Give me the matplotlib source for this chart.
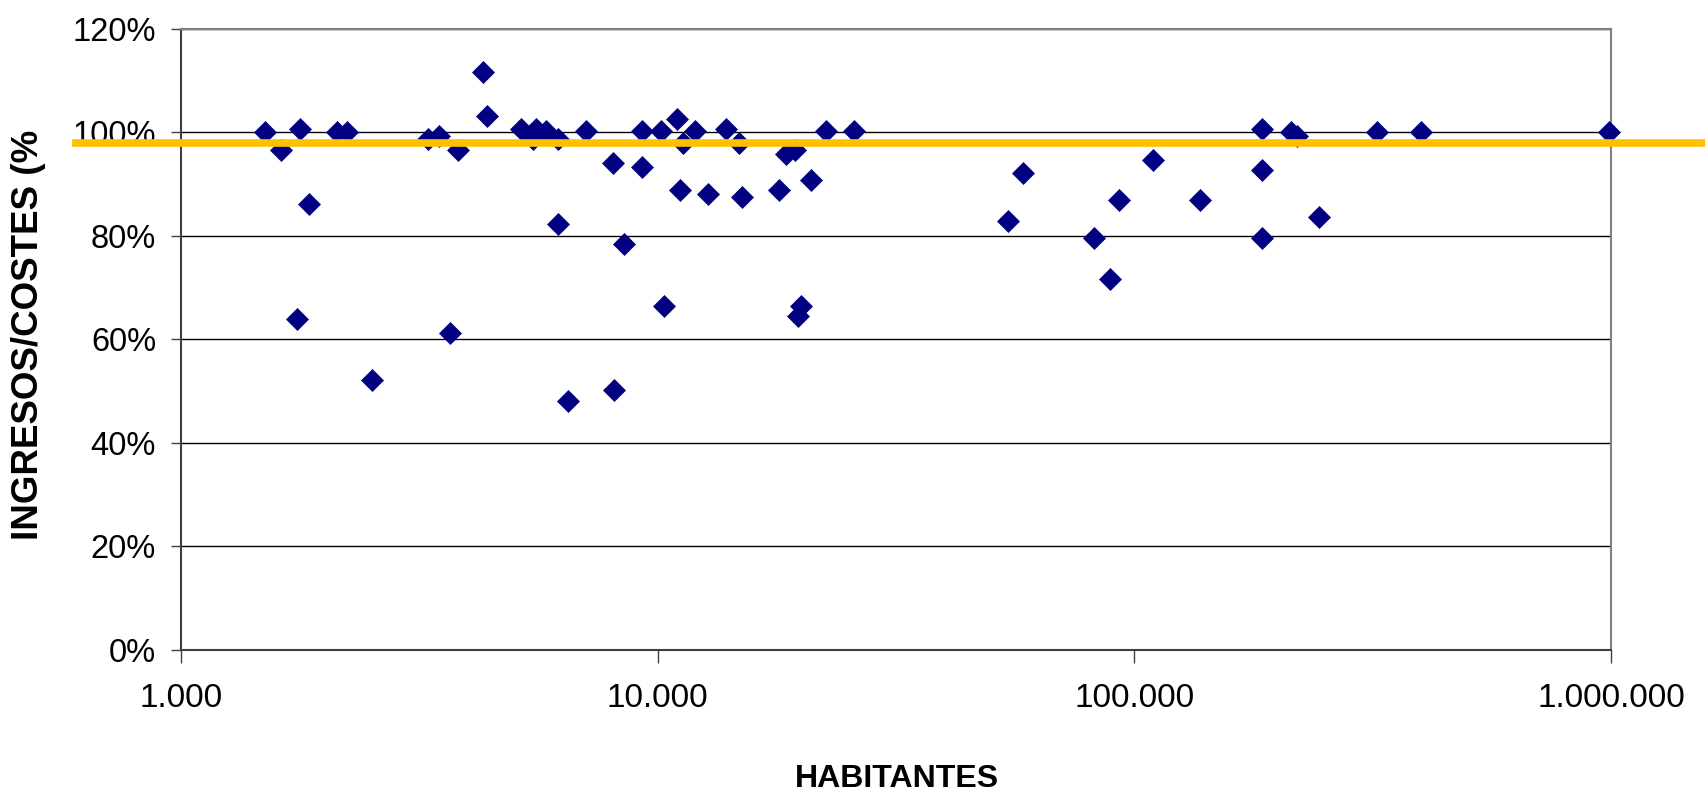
import matplotlib
matplotlib.use("Agg")
import matplotlib.pyplot as plt
import matplotlib.transforms as mtransforms
from matplotlib.ticker import FixedLocator, NullLocator, PercentFormatter

plt.rcParams['font.family'] = ['Liberation Sans', 'DejaVu Sans']

# Habitantes (population) of each municipality
habitantes = [1500, 1620, 1775, 1750, 1856, 2120, 2230, 2510, 3290, 3480,
              3820, 3660, 4300, 4380, 5160, 5480, 5560, 5830, 6190, 6190,
              7080, 8070, 8490, 8110, 6470, 9280, 9280, 10160, 10330, 10970,
              11320, 11140, 11990, 12730, 13930, 14810, 15020, 17990, 18550, 19410,
              19680, 19990, 20940, 22590, 25850, 54390, 58340, 82370, 89000, 92930,
              109700, 137540, 185700, 185700, 185700, 212650, 219600, 243800, 323600, 399900,
              989000]

# Ingresos / costes ratio (%)
ratio = [100, 96.7, 100.6, 64.0, 86.2, 100, 100, 52.2, 98.7, 99.3,
         96.7, 61.3, 111.7, 103.2, 100.6, 98.7, 100.6, 100.3, 98.7, 82.4,
         100.2, 94.1, 78.4, 50.2, 48.2, 100.2, 93.4, 100.2, 66.5, 102.6,
         98.0, 88.8, 100.2, 88.1, 100.7, 98.0, 87.5, 88.8, 95.9, 96.7,
         64.5, 66.5, 90.8, 100.2, 100.2, 82.9, 92.1, 79.7, 71.7, 86.9,
         94.7, 86.9, 100.6, 92.8, 79.7, 100, 99.3, 83.6, 100, 100,
         100]

reference_line = 0.98  # orange reference line

x_ticks = [1000, 10000, 100000, 1000000]
x_tick_labels = ["1.000", "10.000", "100.000", "1.000.000"]
y_ticks = [0, 0.2, 0.4, 0.6, 0.8, 1.0, 1.2]

fig = plt.figure(figsize=(17.06, 7.91), dpi=100)
ax = fig.add_axes([0.1061, 0.1783, 0.8382, 0.7851])

ax.plot(habitantes, [r / 100 for r in ratio], linestyle="none", marker="D",
        markersize=11, color="#000080", markeredgecolor="#000080",
        markeredgewidth=0.5, clip_on=False, zorder=3)

ax.set_xscale("log")
ax.set_xlim(1000, 1000000)
ax.set_ylim(0, 1.2)
ax.xaxis.set_major_locator(FixedLocator(x_ticks))
ax.xaxis.set_minor_locator(NullLocator())
ax.set_xticklabels(x_tick_labels)
ax.set_yticks(y_ticks)
ax.yaxis.set_major_formatter(PercentFormatter(1.0, decimals=0))

ax.grid(axis="y", color="black", linewidth=1.0)
ax.set_axisbelow(True)
for side in ["left", "bottom", "right", "top"]:
    ax.spines[side].set_color("#808080")
    ax.spines[side].set_linewidth(1.5)
ax.spines["left"].set_color("#404040")
ax.spines["bottom"].set_color("#404040")
ax.tick_params(axis="y", labelsize=23.5, length=7, width=1, color="#404040", pad=11)
ax.tick_params(axis="x", labelsize=24, length=9, width=1, color="#404040", pad=15)

# orange line crossing the whole figure at ~98%
trans = mtransforms.blended_transform_factory(fig.transFigure, ax.transData)
ax.plot([0.0445, 1.0], [reference_line, reference_line], color="#FFC000",
        linewidth=5.5, transform=trans, clip_on=False, zorder=5)

fig.text(0.0165, 0.5765, "INGRESOS/COSTES (%", rotation=90, ha="center",
         va="center", fontsize=26.5, fontweight="bold")
fig.text(0.5258, 0.005, "HABITANTES", ha="center", va="baseline",
         fontsize=23, fontweight="bold")

fig.savefig("out.png", dpi=100)
